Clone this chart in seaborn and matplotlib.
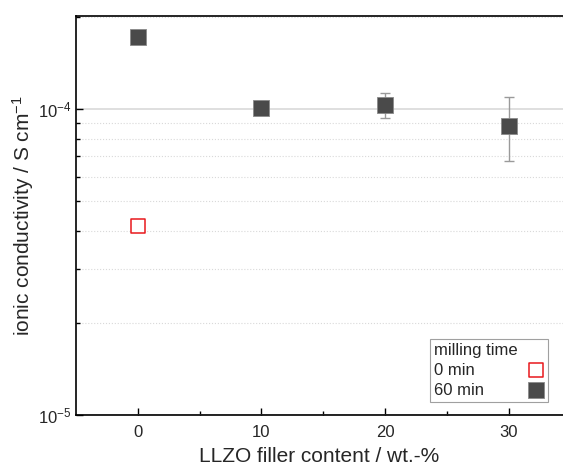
import numpy as np
import pandas as pd
import matplotlib
matplotlib.use("Agg")
import matplotlib.pyplot as plt
import seaborn as sns
from matplotlib.ticker import LogLocator, FixedLocator, NullFormatter

# milled 0 min
filler_0 = [0]
sigma_0 = [4.15e-5]

# milled 60 min
filler_60 = [0, 10, 20, 30]
sigma_60 = [1.71e-4, 1.01e-4, 1.03e-4, 8.8e-5]
err_lo_60 = [0.04e-4, 0.05e-4, 0.10e-4, 2.05e-5]
err_hi_60 = [0.04e-4, 0.05e-4, 0.10e-4, 2.15e-5]

df0 = pd.DataFrame({"filler": filler_0, "sigma": sigma_0})
df60 = pd.DataFrame({"filler": filler_60, "sigma": sigma_60})

sns.set_theme(style="white")
plt.rcParams["font.family"] = ["Liberation Sans", "DejaVu Sans"]
plt.rcParams["mathtext.fontset"] = "custom"
plt.rcParams["mathtext.rm"] = "Liberation Sans"
plt.rcParams["mathtext.it"] = "Liberation Sans:italic"

fig = plt.figure(figsize=(5.63, 4.7), dpi=100)
ax = fig.add_axes([76 / 563, 1 - 415 / 470, 487 / 563, 399 / 470])

ax.errorbar(filler_60, sigma_60, yerr=[err_lo_60, err_hi_60], fmt="none",
            ecolor="#9a9a9a", elinewidth=1, capsize=3.5, capthick=1, zorder=2)

sns.scatterplot(data=df0, x="filler", y="sigma", ax=ax, marker="s", s=105,
                facecolor="white", edgecolor="#e8191c", linewidth=1.1,
                label="0 min", zorder=3)
sns.scatterplot(data=df60, x="filler", y="sigma", ax=ax, marker="s", s=125,
                color="#4a4a4a", edgecolor="#8a8a8a", linewidth=0.6,
                label="60 min", zorder=3)

ax.set_yscale("log")
ax.set_ylim(1e-5, 2.01e-4)
ax.set_xlim(-5, 34.4)
ax.set_yticks([1e-5, 1e-4])
ax.yaxis.set_minor_locator(LogLocator(base=10, subs=np.arange(2, 10)))
ax.yaxis.set_minor_formatter(NullFormatter())
ax.set_xticks([0, 10, 20, 30])
ax.xaxis.set_minor_locator(FixedLocator([5, 15, 25]))

ax.grid(which="major", axis="y", color="#d9d9d9", linewidth=1.2, linestyle="-")
ax.grid(which="minor", axis="y", color="#d9d9d9", linewidth=0.8, linestyle=":")
ax.set_axisbelow(True)

ax.tick_params(axis="both", which="major", direction="in", length=5, width=1,
               labelsize=12, color="black", left=True, bottom=True)
ax.tick_params(axis="x", which="major", pad=7)
ax.tick_params(axis="both", which="minor", direction="in", length=3, width=1,
               color="black", left=True, bottom=True)

for side in ["left", "bottom", "top"]:
    ax.spines[side].set_color("black")
    ax.spines[side].set_linewidth(1.2)
ax.spines["right"].set_visible(False)

ax.set_xlabel("LLZO filler content / wt.-%", fontsize=15, labelpad=5)
ax.set_ylabel("ionic conductivity / S cm$^{-1}$", fontsize=15, labelpad=1)

leg = ax.legend(title="milling time", loc="lower right", markerfirst=False,
                bbox_to_anchor=(548 / 563, 1 - 402 / 470),
                bbox_transform=fig.transFigure, borderaxespad=0,
                fontsize=12, title_fontsize=12, frameon=True, fancybox=False,
                edgecolor="#888888", borderpad=0.25, labelspacing=0.3,
                handlelength=1.0, handletextpad=1.0)
leg._legend_box.align = "left"
leg.get_frame().set_linewidth(0.8)

# text on the left, marker pushed to the right edge of the box
for col in leg._legend_handle_box.get_children():
    col.align = "left"
    for row in col.get_children():
        row.mode = "expand"
        row.width = 110

fig.savefig("out.png", dpi=100)
